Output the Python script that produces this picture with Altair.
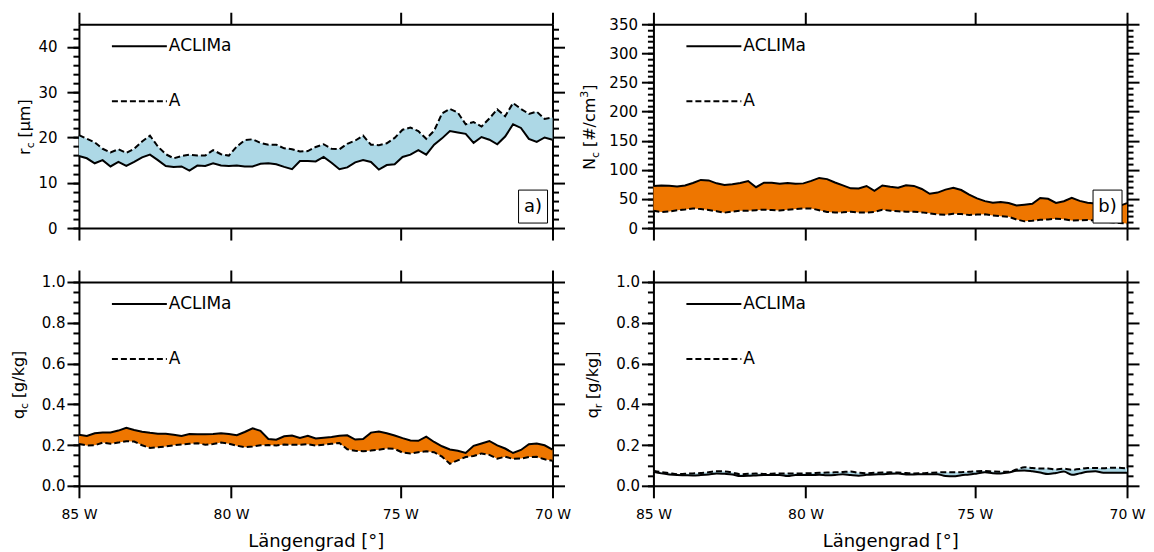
import altair as alt
import pandas as pd

# ---------------- data ----------------
LON = [-85.0, -84.75, -84.5, -84.25, -84.0, -83.75, -83.5, -83.25, -83.0, -82.75,
       -82.5, -82.25, -82.0, -81.75, -81.5, -81.25, -81.0, -80.75, -80.5, -80.25,
       -80.0, -79.75, -79.5, -79.25, -79.0, -78.75, -78.5, -78.25, -78.0, -77.75,
       -77.5, -77.25, -77.0, -76.75, -76.5, -76.25, -76.0, -75.75, -75.5, -75.25,
       -75.0, -74.75, -74.5, -74.25, -74.0, -73.75, -73.5, -73.25, -73.0, -72.75,
       -72.5, -72.25, -72.0, -71.75, -71.5, -71.25, -71.0, -70.75, -70.5, -70.25, -70.0]

RC_ACLIMA = [15.9, 15.4, 14.3, 15.0, 13.6, 14.6, 13.7, 14.6, 15.6, 16.2, 15.0, 13.7, 13.5, 13.6, 12.7,
             13.8, 13.7, 14.3, 13.8, 13.7, 13.8, 13.6, 13.6, 14.2, 14.3, 14.1, 13.5, 13.0, 14.8, 14.8,
             14.7, 15.7, 14.4, 13.0, 13.4, 14.5, 15.0, 14.6, 12.9, 13.9, 14.1, 15.7, 16.2, 17.2, 16.2,
             18.4, 19.8, 21.4, 21.1, 20.8, 18.8, 20.1, 19.5, 18.5, 20.2, 22.9, 22.1, 19.7, 19.0, 20.0, 19.5]
RC_A = [20.5, 19.7, 18.9, 17.5, 16.7, 17.4, 16.6, 17.5, 19.1, 20.4, 18.0, 16.3, 15.4, 15.9, 16.2,
        16.0, 16.0, 17.2, 16.3, 16.0, 18.0, 19.4, 19.6, 18.8, 18.4, 18.4, 17.6, 17.4, 16.9, 17.0,
        17.9, 18.5, 17.5, 17.4, 18.6, 19.3, 20.4, 18.4, 18.3, 18.7, 19.9, 21.7, 22.2, 21.4, 19.7,
        21.5, 25.3, 26.3, 25.5, 22.9, 23.4, 22.4, 24.2, 26.2, 24.7, 27.6, 26.3, 25.2, 25.7, 24.1, 24.4]

NC_ACLIMA = [72.0, 72.9, 72.7, 71.5, 73.2, 77.3, 82.6, 81.8, 76.8, 73.8, 75.2, 77.2, 80.7, 70.1, 77.8,
             77.8, 76.2, 77.4, 75.9, 76.7, 81.0, 86.1, 84.0, 78.2, 73.2, 68.2, 68.1, 72.2, 63.9, 73.1,
             70.8, 69.2, 73.4, 72.4, 67.1, 58.8, 60.9, 66.0, 69.2, 65.3, 57.4, 51.0, 46.2, 43.5, 44.8,
             42.9, 38.6, 40.0, 41.6, 51.6, 50.3, 43.2, 46.1, 51.9, 46.7, 43.5, 42.3, 40.6, 38.9, 37.7, 42.9]
NC_A = [29.7, 27.5, 28.5, 30.4, 31.8, 33.7, 32.5, 31.0, 28.9, 26.4, 28.4, 29.7, 29.8, 30.7, 31.6,
        31.0, 30.1, 31.5, 32.6, 33.7, 33.7, 30.6, 27.6, 26.6, 27.0, 28.0, 26.9, 26.7, 27.7, 31.5,
        29.7, 28.7, 28.0, 28.0, 26.9, 25.2, 23.5, 22.8, 24.5, 24.1, 22.4, 23.2, 23.5, 21.5, 20.2,
        19.5, 14.7, 11.5, 12.6, 14.1, 14.7, 16.0, 15.2, 12.9, 13.4, 13.7, 13.1, 11.6, 10.1, 8.8, 8.0]

QC_ACLIMA = [0.250, 0.245, 0.258, 0.261, 0.262, 0.271, 0.285, 0.274, 0.265, 0.260, 0.256, 0.256, 0.251,
             0.245, 0.254, 0.253, 0.253, 0.254, 0.258, 0.254, 0.248, 0.264, 0.282, 0.270, 0.230, 0.226,
             0.243, 0.247, 0.235, 0.245, 0.232, 0.236, 0.240, 0.246, 0.248, 0.227, 0.230, 0.261, 0.266,
             0.258, 0.247, 0.234, 0.222, 0.221, 0.241, 0.215, 0.194, 0.178, 0.172, 0.161, 0.196, 0.208,
             0.220, 0.198, 0.183, 0.161, 0.176, 0.204, 0.208, 0.199, 0.178]
QC_A = [0.205, 0.198, 0.199, 0.212, 0.207, 0.212, 0.219, 0.217, 0.199, 0.186, 0.189, 0.193, 0.199,
        0.203, 0.206, 0.209, 0.202, 0.205, 0.212, 0.207, 0.197, 0.189, 0.193, 0.199, 0.200, 0.198,
        0.203, 0.201, 0.201, 0.204, 0.198, 0.202, 0.206, 0.210, 0.179, 0.172, 0.170, 0.173, 0.177,
        0.183, 0.181, 0.163, 0.159, 0.165, 0.169, 0.165, 0.143, 0.108, 0.125, 0.141, 0.146, 0.159,
        0.152, 0.133, 0.143, 0.132, 0.134, 0.141, 0.142, 0.130, 0.123]

QR_ACLIMA = [0.069, 0.061, 0.056, 0.053, 0.052, 0.051, 0.053, 0.056, 0.061, 0.059, 0.056, 0.048, 0.049,
             0.051, 0.053, 0.053, 0.053, 0.048, 0.053, 0.053, 0.053, 0.054, 0.052, 0.053, 0.057, 0.053,
             0.050, 0.054, 0.056, 0.057, 0.059, 0.060, 0.056, 0.056, 0.057, 0.057, 0.057, 0.048, 0.047,
             0.052, 0.056, 0.061, 0.066, 0.062, 0.061, 0.065, 0.074, 0.075, 0.071, 0.065, 0.058, 0.063,
             0.070, 0.054, 0.061, 0.069, 0.071, 0.064, 0.064, 0.064, 0.064]
QR_A = [0.074, 0.067, 0.062, 0.057, 0.059, 0.061, 0.063, 0.066, 0.072, 0.070, 0.065, 0.057, 0.059,
        0.060, 0.058, 0.059, 0.061, 0.061, 0.061, 0.061, 0.062, 0.064, 0.065, 0.066, 0.068, 0.070,
        0.064, 0.062, 0.064, 0.065, 0.066, 0.065, 0.063, 0.061, 0.062, 0.064, 0.066, 0.067, 0.066,
        0.067, 0.069, 0.072, 0.073, 0.070, 0.069, 0.069, 0.080, 0.091, 0.088, 0.085, 0.085, 0.080,
        0.084, 0.079, 0.082, 0.088, 0.088, 0.086, 0.089, 0.089, 0.085]

XTICK_VALUES = [-85.0, -80.18, -74.82, -70.0]
XTICK_LABELS = ["85 W", "80 W", "75 W", "70 W"]
LEGEND_LABELS = ["ACLIMa", "A"]
PANEL_LABELS = ["a)", "b)"]
X_TITLE = "Längengrad [°]"
# y titles: (text, role) with role main / sub / sup / gap
Y_TITLES = [
    [("r", "main"), ("c", "sub"), ("", "gap"), ("[µm]", "main")],
    [("N", "main"), ("c", "sub"), ("", "gap"), ("[#/cm", "main"), ("3", "sup"), ("]", "main")],
    [("q", "main"), ("c", "sub"), ("", "gap"), ("[g/kg]", "main")],
    [("q", "main"), ("r", "sub"), ("", "gap"), ("[g/kg]", "main")],
]

FONT = "DejaVu Sans"
BLUE = "#ADD8E6"
ORANGE = "#EE7600"
W, H = 474, 204
TITLE_SIZE, SMALL_SIZE = 16, 11
# approximate DejaVu Sans advance widths (em) for layout of the composed titles
EM = {"[": .39, "]": .39, "#": .838, "/": .337, "µ": .636, "m": .974, "c": .55,
      "r": .411, "N": .748, "q": .635, "g": .635, "k": .579, "3": .636}


def x_label_expr():
    expr = "'" + XTICK_LABELS[-1] + "'"
    for i in range(len(XTICK_VALUES) - 2, -1, -1):
        mid = (XTICK_VALUES[i] + XTICK_VALUES[i + 1]) / 2
        expr = f"datum.value < {mid} ? '{XTICK_LABELS[i]}' : ({expr})"
    return expr


def one():
    return pd.DataFrame({"k": [0]})


def title_layers(parts, base_x, center_y):
    sizes = {"main": TITLE_SIZE, "sub": SMALL_SIZE, "sup": SMALL_SIZE, "gap": TITLE_SIZE}
    dx = {"main": 0, "sub": 4, "sup": -7, "gap": 0}
    widths = [(0.3 if r == "gap" else sum(EM.get(ch, .6) for ch in t)) * sizes[r]
              for t, r in parts]
    y = center_y + sum(widths) / 2
    out = []
    for (t, r), w in zip(parts, widths):
        if t:
            out.append(alt.Chart(one()).mark_text(align="left", baseline="alphabetic", angle=270,
                                                  font=FONT, fontSize=sizes[r], color="black").encode(
                x=alt.value(base_x + dx[r]), y=alt.value(y), text=alt.value(t)))
        y -= w
    return out


def panel(aclima, a, ymax, minor, major, decimals, fill, title, title_x, lab_pad, show_x,
          box=None, interp="linear"):
    df = pd.DataFrame({"lon": LON, "aclima": aclima, "a": a})
    n = int(round(ymax / minor))
    yminor = [round(i * minor, 4) for i in range(n + 1)]
    m = int(round(ymax / major + 1e-9))
    ymajor = [round(i * major, 4) for i in range(m + 1)]
    is_major = f"abs(datum.value/{major} - round(datum.value/{major})) < 0.001"
    tick_size = {"condition": {"test": is_major, "value": 12}, "value": 6}

    xsc = alt.Scale(domain=[-85, -70], nice=False, zero=False)
    ysc = alt.Scale(domain=[0, ymax], nice=False, zero=False)

    ax_bottom = alt.Axis(orient="bottom", values=XTICK_VALUES, labels=show_x,
                         labelExpr=x_label_expr(), tickSize=12, labelFlush=False,
                         labelOverlap=False, labelFontSize=14, labelPadding=10,
                         title=X_TITLE if show_x else None, titleFontSize=18,
                         titleFontWeight="normal", titlePadding=11)
    ax_top = alt.Axis(orient="top", values=XTICK_VALUES, labels=False, tickSize=12, title=None)
    ax_left_major = alt.Axis(orient="left", values=ymajor, format=f".{decimals}f", tickSize=12,
                             labelFlush=False, labelOverlap=False, labelFontSize=15,
                             labelPadding=lab_pad, title=None)
    ax_left_minor = alt.Axis(orient="left", values=yminor, labels=False, tickSize=6,
                             title=None, domain=False)
    ax_right = alt.Axis(orient="right", values=yminor, labels=False, tickSize=tick_size, title=None)

    base = alt.Chart(df)
    area = base.mark_area(color=fill, opacity=1, interpolate=interp).encode(
        x=alt.X("lon:Q", scale=xsc, axis=ax_bottom),
        y=alt.Y("aclima:Q", scale=ysc, axis=ax_left_major),
        y2="a:Q",
    )
    solid = base.mark_line(color="black", strokeWidth=2, interpolate=interp).encode(
        x=alt.X("lon:Q", scale=xsc, axis=None),
        y=alt.Y("aclima:Q", scale=ysc, axis=ax_left_minor),
    )
    dashed = base.mark_line(color="black", strokeWidth=2, strokeDash=[6, 3],
                            interpolate=interp).encode(
        x=alt.X("lon:Q", scale=xsc, axis=ax_top),
        y=alt.Y("a:Q", scale=ysc, axis=ax_right),
    )

    layers = [area, solid, dashed]

    leg_y = [22, 77]
    dashes = [[1, 0], [6, 3]]
    for lbl, yy, dsh in zip(LEGEND_LABELS, leg_y, dashes):
        layers.append(alt.Chart(one()).mark_rule(color="black", strokeWidth=2, strokeDash=dsh).encode(
            x=alt.value(33), x2=alt.value(88), y=alt.value(yy)))
        layers.append(alt.Chart(one()).mark_text(align="left", baseline="middle", font=FONT,
                                                 fontSize=17, color="black").encode(
            x=alt.value(90), y=alt.value(yy), text=alt.value(lbl)))

    layers += title_layers(title, title_x, 103)

    if box is not None:
        layers.append(alt.Chart(one()).mark_rect(fill="white", stroke="black", strokeWidth=1).encode(
            x=alt.value(440), x2=alt.value(469), y=alt.value(166), y2=alt.value(199)))
        layers.append(alt.Chart(one()).mark_text(align="center", baseline="middle", font=FONT,
                                                 fontSize=18, color="black").encode(
            x=alt.value(454.5), y=alt.value(183), text=alt.value(box)))

    return alt.layer(*layers).resolve_axis(x="independent", y="independent").properties(
        width=W, height=H)


tl = panel(RC_ACLIMA, RC_A, 45, 2, 10, 0, BLUE, Y_TITLES[0], -49, 10, False, PANEL_LABELS[0])
tr = panel(NC_ACLIMA, NC_A, 350, 10, 50, 0, ORANGE, Y_TITLES[1], -58, 4, False, PANEL_LABELS[1])
bl = panel(QC_ACLIMA, QC_A, 1.0, 0.05, 0.2, 1, ORANGE, Y_TITLES[2], -55, 2, True)
br = panel(QR_ACLIMA, QR_A, 1.0, 0.05, 0.2, 1, BLUE, Y_TITLES[3], -55, 2, True, interp="monotone")

chart = alt.concat(
    tl, tr, bl, br, columns=2, spacing={"row": 54, "column": 101}, bounds="flush",
).configure_view(stroke=None).configure_axis(
    domainColor="black", domainWidth=2, tickColor="black", tickWidth=2,
    labelColor="black", titleColor="black", labelFont=FONT, titleFont=FONT, grid=False,
).properties(padding={"left": 3, "top": 3, "right": 0, "bottom": 0})

chart.save("out.html", embed_options={"renderer": "svg", "actions": False})
